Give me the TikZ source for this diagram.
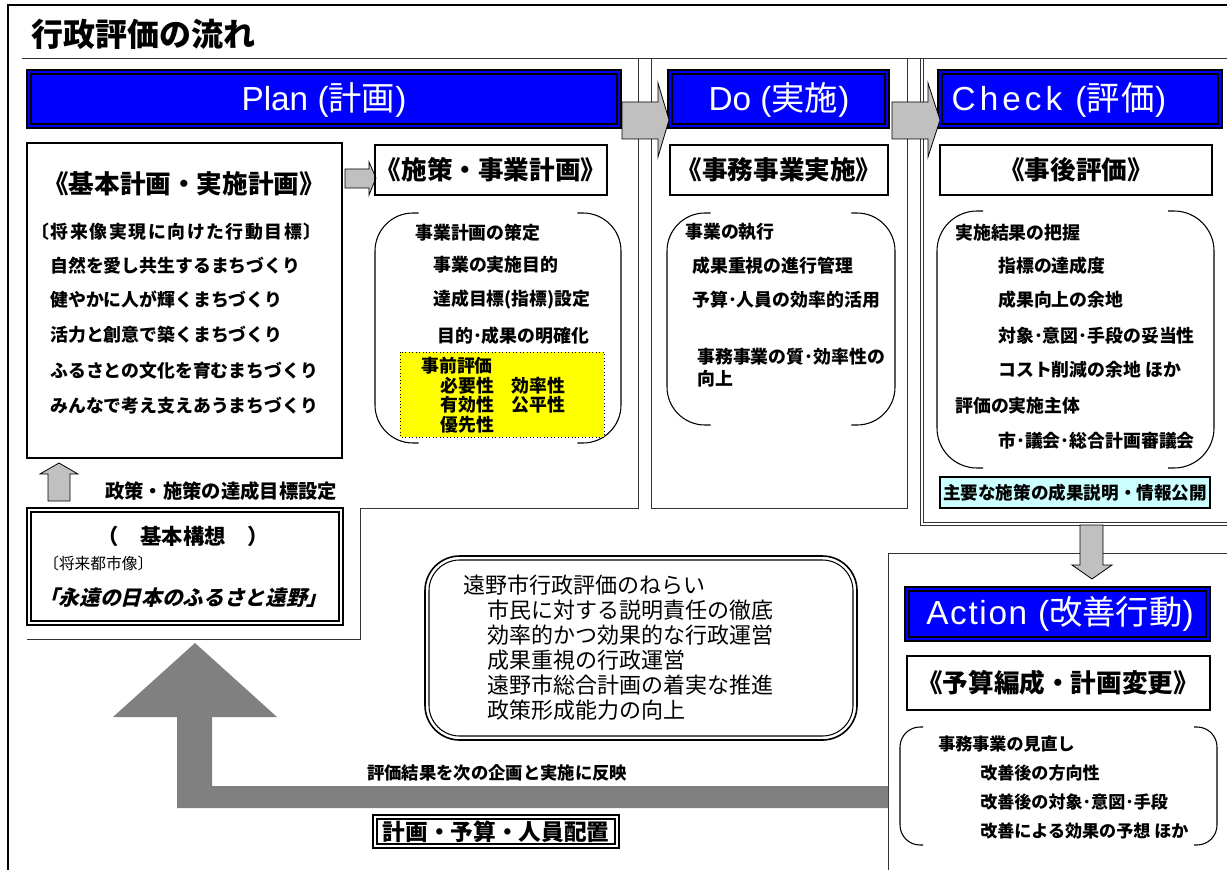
\documentclass[tikz,border=0pt]{standalone}
\usepackage{fontspec}
\setmainfont{Noto Sans CJK JP}
\newfontfamily\lat{Liberation Sans}
\newfontfamily\latsp[LetterSpace=12]{Liberation Sans}
\newfontfamily\latspa[LetterSpace=5]{Liberation Sans}
\newfontfamily\jpsp[LetterSpace=6]{Noto Sans CJK JP}
\newfontfamily\jpspb[LetterSpace=9]{Noto Sans CJK JP}
\newfontfamily\jpsl[FakeSlant=0.25]{Noto Sans CJK JP}
\usetikzlibrary{calc}
\definecolor{hdrblue}{RGB}{0,0,255}
\definecolor{arrgray}{RGB}{192,192,192}
\definecolor{bigarr}{RGB}{128,128,128}
\definecolor{cyanbox}{RGB}{204,255,255}
\definecolor{yel}{RGB}{255,255,0}
\newcommand\hdrbox[4]{%
  \fill[hdrblue] (#1,#2) rectangle (#3,#4);
  \draw[line width=1.6pt] (#1,#2) rectangle (#3,#4);
  \draw[line width=1.1pt] ($(#1,#2)+(4,4)$) rectangle ($(#3,#4)+(-4,-4)$);}
\newcommand\dblbox[4]{%
  \draw[line width=1.2pt] (#1,#2) rectangle (#3,#4);
  \draw[line width=0.8pt] ($(#1,#2)+(4,4)$) rectangle ($(#3,#4)+(-4,-4)$);}
% bracket pair: x1 y1 x2 y2 radius(px)
\newcommand\brk[5]{%
  \draw[line width=0.8pt, rounded corners={#5*0.75pt}] ({#1+#5*1.15},#2) -- (#1,#2) -- (#1,#4) -- ({#1+#5*1.15},#4);
  \draw[line width=0.8pt, rounded corners={#5*0.75pt}] ({#3-#5*1.15},#2) -- (#3,#2) -- (#3,#4) -- ({#3-#5*1.15},#4);}
\tikzset{
  txt/.style={anchor=west, inner sep=0pt, font=\bfseries\fontsize{13.4}{15}\selectfont},
  smalltxt/.style={anchor=west, inner sep=0pt, font=\bfseries\fontsize{12.8}{14}\selectfont},
  aimtxt/.style={anchor=west, inner sep=0pt, font=\fontsize{16.5}{18}\selectfont},
  sectitle/.style={inner sep=0pt, font=\bfseries\fontsize{19.2}{21}\selectfont},
  hdrtext/.style={inner sep=0pt, text=white, font=\fontsize{25}{27}\selectfont},
  boxline/.style={line width=1.3pt},
  blockarrow/.style={fill=arrgray, draw=black, line width=0.6pt},
  frameline/.style={line width=0.7pt, black!80},
}
\begin{document}
\begin{tikzpicture}[x=0.75pt,y=-0.75pt]
\useasboundingbox (0,0) rectangle (1227,870);
\fill[white] (0,0) rectangle (1227,870);

% outer frame and panel lines
\draw[line width=2pt] (8,870) -- (8,5) -- (1227,5);
\node[anchor=west, inner sep=0pt, font=\bfseries\fontsize{24}{26}\selectfont] (title) at (31,34) {行政評価の流れ};
\draw[frameline] (22,58) -- (1227,58);
\draw[frameline] (638,58) -- (638,508) -- (360,508) -- (360,639) -- (27,639);
\draw[frameline] (651,58) -- (651,508) -- (907,508) -- (907,58);
\draw[frameline] (920,58) -- (920,525) -- (1227,525);
\draw[frameline] (923,58) -- (923,522) -- (1227,522);
\draw[frameline] (888,870) -- (888,553) -- (1227,553);

% headers
\hdrbox{27}{70}{621}{128}
\node[hdrtext] (plan) at (324,100) {{\lat Plan (}計画{\lat )}};
\hdrbox{668}{70}{889}{128}
\node[hdrtext] (do) at (779,100) {{\lat Do (}実施{\lat )}};
\hdrbox{938}{70}{1222}{128}
\node[hdrtext] (check) at (1059,100) {{\latsp Check (}{\jpsp 評価}{\lat )}};
\hdrbox{905}{587}{1210}{641}
\node[hdrtext] (action) at (1060,614) {{\latspa Action (}改善行動{\lat )}};

% arrows between headers
\draw[blockarrow] (622,102) -- (658,102) -- (658,83) -- (669,120) -- (658,157) -- (658,139) -- (622,139) -- cycle;
\draw[blockarrow] (892,102) -- (928,102) -- (928,83) -- (940,120) -- (928,157) -- (928,139) -- (892,139) -- cycle;

% Plan: basic plan box
\draw[boxline] (27,143) rectangle (342,458);
\node[sectitle] (kihon) at (184,184) {《基本計画・実施計画》};
\node[txt, font=\jpspb\bfseries\fontsize{13.4}{15}\selectfont] (k0) at (31,232) {〔将来像実現に向けた行動目標〕};
\node[txt] (k1) at (50,266) {自然を愛し共生するまちづくり};
\node[txt] (k2) at (50,300) {健やかに人が輝くまちづくり};
\node[txt] (k3) at (50,335) {活力と創意で築くまちづくり};
\node[txt] (k4) at (50,371) {ふるさとの文化を育むまちづくり};
\node[txt] (k5) at (50,406) {みんなで考え支えあうまちづくり};

\draw[blockarrow] (345,169) -- (369,169) -- (369,162) -- (376,178) -- (369,195) -- (369,188) -- (345,188) -- cycle;

% Plan: measures box
\draw[boxline] (375,145) rectangle (607,195);
\node[sectitle] (shisaku) at (491,170) {《施策・事業計画》};
\brk{375}{213}{621}{443}{38}
\node[txt] (p1) at (415,233) {事業計画の策定};
\node[txt] (p2) at (433,265) {事業の実施目的};
\node[txt] (p3) at (433,300) {達成目標(指標)設定};
\node[txt] (p4) at (437,336) {目的･成果の明確化};
\draw[dotted, fill=yel, line width=0.6pt] (400,352) rectangle (604,437);
\node[txt] (y1) at (421,366) {事前評価};
\node[txt] (y2) at (440,386) {必要性　効率性};
\node[txt] (y3) at (440,405) {有効性　公平性};
\node[txt] (y4) at (440,425) {優先性};

% Do
\draw[boxline] (670,145) rectangle (888,195);
\node[sectitle] (jimu) at (779,170) {《事務事業実施》};
\brk{667}{213}{895}{425}{38}
\node[txt] (d1) at (685,232) {事業の執行};
\node[txt] (d2) at (692,266) {成果重視の進行管理};
\node[txt] (d3) at (692,300) {予算･人員の効率的活用};
\node[txt] (d4) at (697,357) {事務事業の質･効率性の};
\node[txt] (d5) at (697,379) {向上};

% Check
\draw[boxline] (940,145) rectangle (1212,195);
\node[sectitle] (jigo) at (1076,170) {《事後評価》};
\brk{937}{211}{1214}{468}{40}
\node[txt] (c1) at (955,233) {実施結果の把握};
\node[txt] (c2) at (998,266) {指標の達成度};
\node[txt] (c3) at (998,300) {成果向上の余地};
\node[txt] (c4) at (998,336) {対象･意図･手段の妥当性};
\node[txt] (c5) at (998,370) {コスト削減の余地 ほか};
\node[txt] (c6) at (955,406) {評価の実施主体};
\node[txt] (c7) at (998,441) {市･議会･総合計画審議会};
\draw[line width=1.5pt, fill=cyanbox] (940,477) rectangle (1210,508);
\node[inner sep=0pt, font=\bfseries\fontsize{13.2}{15}\selectfont] (koukai) at (1075,493) {主要な施策の成果説明・情報公開};

\draw[blockarrow] (1080,525) -- (1103,525) -- (1103,565) -- (1112,565) -- (1092,579) -- (1072,565) -- (1080,565) -- cycle;

% Action
\draw[boxline] (907,656) rectangle (1210,710);
\node[sectitle] (yosan) at (1058,683) {《予算編成・計画変更》};
\brk{900}{727}{1217}{845}{20}
\node[smalltxt] (a1) at (938,744) {事務事業の見直し};
\node[smalltxt] (a2) at (980,773) {改善後の方向性};
\node[smalltxt] (a3) at (980,802) {改善後の対象･意図･手段};
\node[smalltxt] (a4) at (980,831) {改善による効果の予想 ほか};

% basic concept
\draw[blockarrow] (48,501) -- (48,474) -- (40,474) -- (59,463) -- (78,474) -- (70,474) -- (70,501) -- cycle;
\node[anchor=west, inner sep=0pt, font=\bfseries\fontsize{14.5}{16}\selectfont] (mokuhyo) at (105,491) {政策・施策の達成目標設定};
\dblbox{27}{508}{343}{625}
\node[inner sep=0pt, font=\bfseries\fontsize{16}{18}\selectfont] (kousou) at (183,536) {（　基本構想　）};
\node[anchor=west, inner sep=0pt, font=\fontsize{11.8}{13}\selectfont] (toshi) at (43,564) {〔将来都市像〕};
\node[anchor=west, inner sep=0pt, font=\jpsl\bfseries\fontsize{15.5}{17}\selectfont] (tono) at (38,598) {「永遠の日本のふるさと遠野」};

% big feedback arrow
\fill[bigarr] (177,808) -- (888,808) -- (888,786) -- (212,786) -- (212,717) -- (277,717) -- (195,643) -- (113,717) -- (177,717) -- cycle;
\node[anchor=west, inner sep=0pt, font=\bfseries\fontsize{13}{15}\selectfont] (hanei) at (367,773) {評価結果を次の企画と実施に反映};
\dblbox{373}{815}{619}{848}
\node[inner sep=0pt, font=\bfseries\fontsize{17}{19}\selectfont] (haichi) at (496,832) {計画・予算・人員配置};

% aims box
\draw[line width=1.2pt, rounded corners=26pt] (425,556) rectangle (857,740);
\draw[line width=0.8pt, rounded corners=23pt] (429,560) rectangle (853,736);
\node[aimtxt] (n0) at (463,585) {遠野市行政評価のねらい};
\node[aimtxt] (n1) at (487,610) {市民に対する説明責任の徹底};
\node[aimtxt] (n2) at (487,635) {効率的かつ効果的な行政運営};
\node[aimtxt] (n3) at (487,660) {成果重視の行政運営};
\node[aimtxt] (n4) at (487,685) {遠野市総合計画の着実な推進};
\node[aimtxt] (n5) at (487,710) {政策形成能力の向上};
\end{tikzpicture}
\end{document}
